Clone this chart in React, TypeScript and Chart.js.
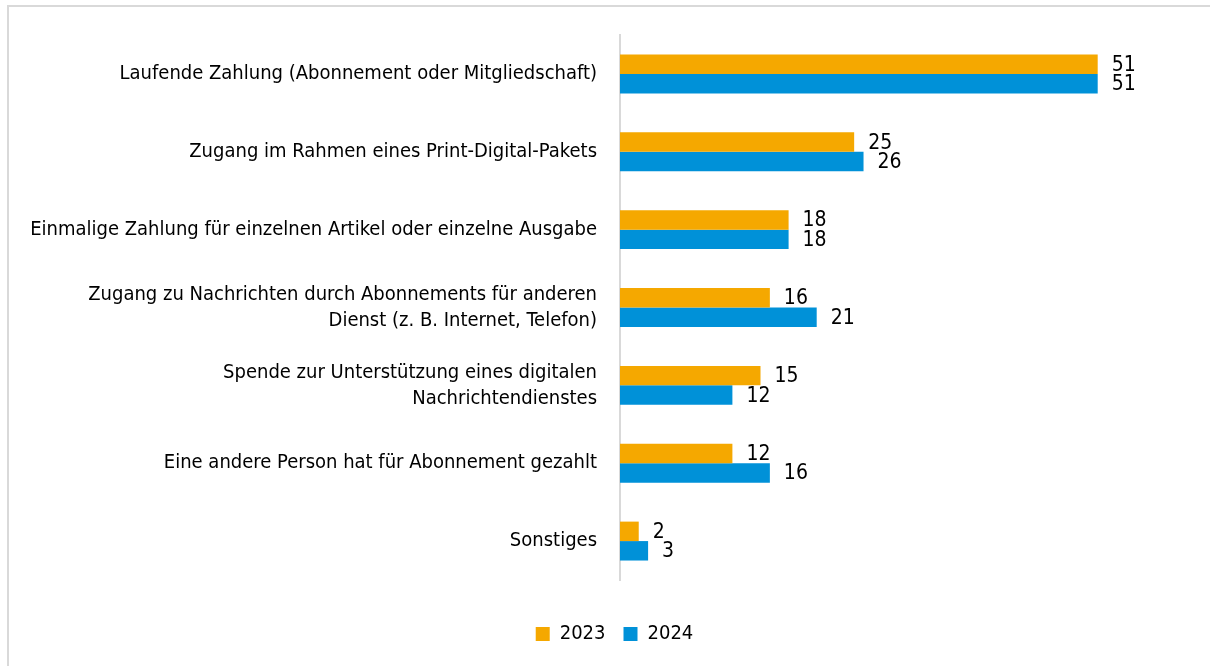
import React, { useEffect, useRef } from "react";
import { Chart, registerables } from "chart.js";

Chart.register(...registerables);

const categories: (string | string[])[] = [
  "Laufende Zahlung (Abonnement oder Mitgliedschaft)",
  "Zugang im Rahmen eines Print-Digital-Pakets",
  "Einmalige Zahlung für einzelnen Artikel oder einzelne Ausgabe",
  ["Zugang zu Nachrichten durch Abonnements für anderen", "Dienst (z. B. Internet, Telefon)"],
  ["Spende zur Unterstützung eines digitalen", "Nachrichtendienstes"],
  "Eine andere Person hat für Abonnement gezahlt",
  "Sonstiges",
];
const values2023 = [51, 25, 18, 16, 15, 12, 2];
const values2024 = [51, 26, 18, 21, 12, 16, 3];
const seriesNames = ["2023", "2024"];
const colors = ["#F5A800", "#0091D8"];

const FONT = "'Liberation Sans Narrow', 'DejaVu Sans Condensed', 'Roboto', sans-serif";

const valueLabels = {
  id: "valueLabels",
  afterDatasetsDraw(chart: any) {
    const ctx = chart.ctx;
    ctx.save();
    ctx.font = `21px ${FONT}`;
    ctx.fillStyle = "#000";
    ctx.textAlign = "left";
    ctx.textBaseline = "middle";
    chart.data.datasets.forEach((ds: any, i: number) => {
      const meta = chart.getDatasetMeta(i);
      meta.data.forEach((el: any, j: number) => {
        ctx.fillText(String(ds.data[j]), el.x + 14, el.y + 1);
      });
    });
    ctx.restore();
  },
};

const legendShift = {
  id: "legendShift",
  afterLayout(chart: any) {
    if (chart.legend) {
      chart.legend.left += 38;
    }
  },
};

export default function App() {
  const ref = useRef<HTMLCanvasElement>(null);
  useEffect(() => {
    document.body.style.margin = "0";
    const chart = new Chart(ref.current!, {
      type: "bar",
      data: {
        labels: categories,
        datasets: [
          { label: seriesNames[0], data: values2023, backgroundColor: colors[0] },
          { label: seriesNames[1], data: values2024, backgroundColor: colors[1] },
        ],
      },
      options: {
        indexAxis: "y",
        animation: false,
        responsive: true,
        maintainAspectRatio: false,
        datasets: { bar: { barPercentage: 1, categoryPercentage: 0.5 } },
        layout: { padding: { top: 20, right: 28, bottom: 12, left: 0 } },
        scales: {
          x: {
            min: 0,
            max: 60,
            grid: { display: false },
            border: { display: false },
            ticks: { display: false },
            afterFit: (s: any) => { s.height = 26; },
          },
          y: {
            grid: { display: false },
            border: { display: true, color: "#D9D9D9", width: 2 },
            ticks: {
              color: "#000",
              padding: 15,
              font: { family: FONT, size: 20, lineHeight: 1.3 },
            },
            afterFit: (s: any) => { s.width = 611; },
          },
        },
        plugins: {
          legend: {
            position: "bottom",
            labels: {
              color: "#000",
              boxWidth: 14,
              boxHeight: 14,
              padding: 18,
              font: { family: FONT, size: 20 },
            },
          },
          tooltip: { enabled: false },
        },
      },
      plugins: [valueLabels, legendShift],
    });
    return () => chart.destroy();
  }, []);
  return (
    <div
      style={{
        position: "absolute",
        left: 7,
        top: 5,
        width: 1203,
        height: 661,
        borderTop: "2px solid #D9D9D9",
        borderLeft: "2px solid #D9D9D9",
        boxSizing: "border-box",
        overflow: "hidden",
        background: "#fff",
      }}
    >
      <div style={{ position: "relative", width: 1201, height: 659 }}>
        <canvas ref={ref} />
      </div>
    </div>
  );
}
